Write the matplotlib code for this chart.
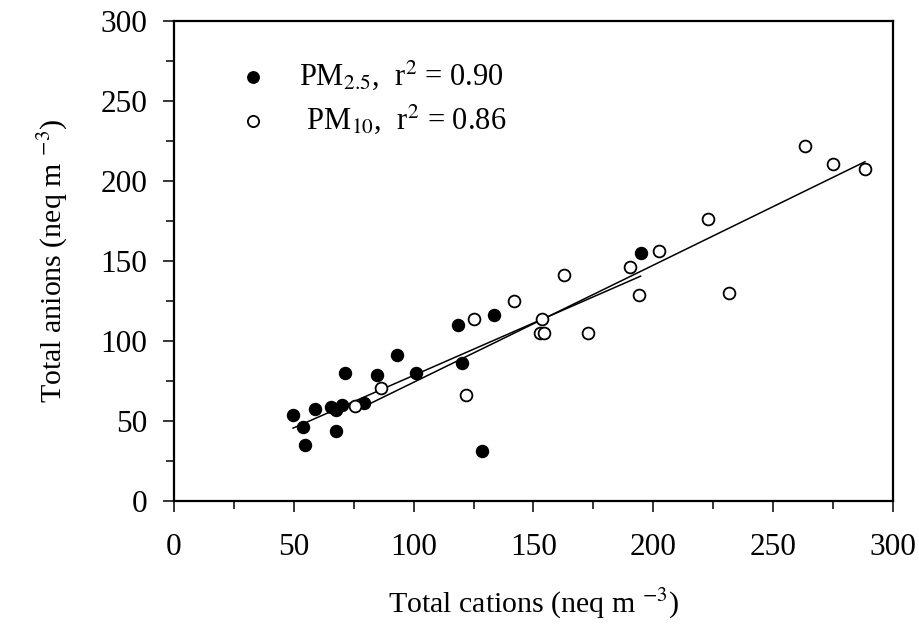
import matplotlib
matplotlib.use("Agg")
import matplotlib.pyplot as plt
import numpy as np

plt.rcParams['font.family'] = ['Liberation Serif', 'DejaVu Serif']
plt.rcParams['mathtext.fontset'] = 'stix'

# PM2.5 (filled)
pm25_x = [49.7, 53.9, 54.6, 59.0, 65.4, 67.4, 67.4, 70.0, 71.5, 79.2,
          84.9, 93.2, 100.8, 118.3, 120.1, 128.5, 133.5, 194.7]
pm25_y = [53.8, 46.3, 34.8, 57.7, 58.5, 56.9, 43.8, 59.8, 80.2, 61.2,
          78.8, 91.2, 80.2, 110.2, 86.0, 31.2, 116.2, 155.2]

# PM10 (open)
pm10_x = [75.6, 86.5, 121.7, 125.1, 141.7, 152.6, 154.5, 153.5, 162.9, 172.9,
          190.4, 193.9, 202.2, 223.0, 231.5, 263.3, 275.1, 288.3]
pm10_y = [59.4, 70.4, 66.2, 113.5, 125.0, 105.0, 105.0, 113.8, 141.2, 105.2,
          146.5, 128.8, 156.5, 176.4, 130.0, 221.7, 210.4, 207.7]

# fitted lines (slope, intercept)
fit25 = (0.655, 13.0)
fit10 = (0.732, 1.0)

labels = ['PM$_{2.5}$,  r$^2$ = 0.90', ' PM$_{10}$,  r$^2$ = 0.86']

fig = plt.figure(figsize=(9.19, 6.28), dpi=100)
ax = fig.add_axes([0.1893, 0.2022, 0.7824, 0.7644])

h1 = ax.scatter(pm25_x, pm25_y, s=75, c='black', edgecolors='black', linewidths=1.0, zorder=3)
h2 = ax.scatter(pm10_x, pm10_y, s=72, facecolors='white', edgecolors='black', linewidths=1.3, zorder=3)

xs = np.array([min(pm25_x), max(pm25_x)])
ax.plot(xs, fit25[0] * xs + fit25[1], color='black', lw=1.1, zorder=2)
xs = np.array([min(pm10_x), max(pm10_x)])
ax.plot(xs, fit10[0] * xs + fit10[1], color='black', lw=1.1, zorder=2)

ax.set_xlim(0, 300)
ax.set_ylim(0, 300)
ax.set_xticks(np.arange(0, 301, 50))
ax.set_yticks(np.arange(0, 301, 50))
ax.set_xticks(np.arange(25, 300, 50), minor=True)
ax.set_yticks(np.arange(25, 300, 50), minor=True)
ax.tick_params(which='major', direction='out', length=8, width=1.1, labelsize=22.5)
ax.tick_params(axis='x', which='major', pad=15)
ax.tick_params(axis='y', which='major', pad=11)
ax.tick_params(which='minor', direction='out', length=6, width=1.1)
for s in ax.spines.values():
    s.set_linewidth(1.6)

ax.set_xlabel('Total cations (neq m $^{-3}$)', fontsize=21.5, labelpad=18)
ax.set_ylabel('Total anions (neq m $^{-3}$)', fontsize=21.5, labelpad=22)

ax.legend([h1, h2], labels, loc='upper left', bbox_to_anchor=(0.05, 0.948),
          frameon=False, fontsize=22, markerscale=0.95, handletextpad=0.5,
          labelspacing=0.35, borderaxespad=0)

fig.savefig('out.png', dpi=100)
